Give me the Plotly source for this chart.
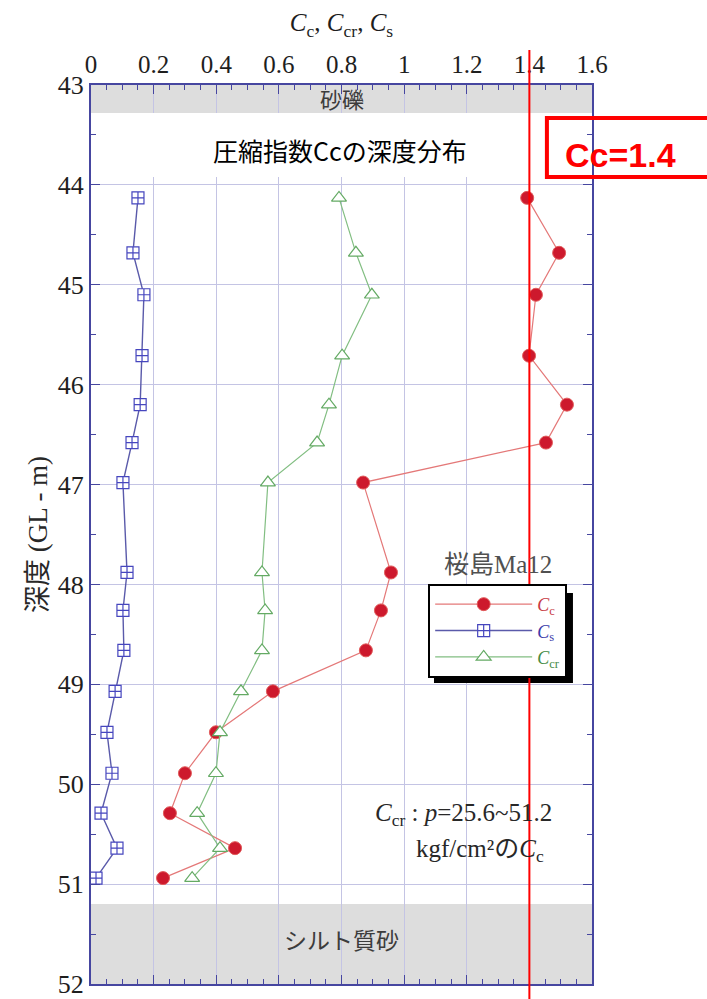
import plotly.graph_objects as go

# Sample depths (GL - m) and the three compression indices
depth = [44.13, 44.68, 45.10, 45.71, 46.20, 46.58, 46.98, 47.88,
         48.26, 48.66, 49.07, 49.48, 49.89, 50.29, 50.64, 50.94]
cc = [1.393, 1.495, 1.421, 1.399, 1.520, 1.453, 0.869, 0.958,
      0.926, 0.878, 0.581, 0.399, 0.300, 0.252, 0.460, 0.230]
cs = [0.150, 0.134, 0.169, 0.163, 0.157, 0.131, 0.102, 0.115,
      0.102, 0.105, 0.077, 0.051, 0.067, 0.032, 0.083, 0.016]
ccr = [0.792, 0.846, 0.897, 0.802, 0.760, 0.722, 0.565, 0.546,
       0.556, 0.546, 0.479, 0.412, 0.399, 0.339, 0.412, 0.323]

x_ticks = [0, 0.2, 0.4, 0.6, 0.8, 1.0, 1.2, 1.4, 1.6]
y_ticks = [43, 44, 45, 46, 47, 48, 49, 50, 51, 52]

# Soil layers (depth ranges) shown as grey bands
gravel_layer = [43.0, 43.28]
silty_sand_layer = [51.2, 52.0]
cc_ref = 1.4

SERIF = "Liberation Serif, Noto Sans CJK JP"
NUM_FONT = "Liberation Serif, Times New Roman, serif"
SANS_JP = "Noto Sans CJK JP"
AXIS_BLUE = "rgb(70,70,160)"
GRID = "rgb(196,196,228)"

RED = "rgb(205,25,45)"
BLUE = "rgb(70,70,190)"
GREEN = "rgb(100,170,100)"

fig = go.Figure()

fig.add_trace(go.Scatter(
    x=cc, y=depth, mode="lines+markers",
    name="<span style='color:rgb(200,60,70)'><i>C</i><sub>c</sub></span>",
    line=dict(color="rgb(228,120,120)", width=1.2),
    marker=dict(symbol="circle", size=13, color=RED,
                line=dict(color="rgb(225,90,90)", width=1)),
))
fig.add_trace(go.Scatter(
    x=cs, y=depth, mode="lines+markers",
    name="<span style='color:rgb(60,60,170)'><i>C</i><sub>s</sub></span>",
    line=dict(color="rgb(90,90,170)", width=1.4),
    marker=dict(symbol="square-cross", size=12, color="white",
                line=dict(color=BLUE, width=1.2)),
))
fig.add_trace(go.Scatter(
    x=ccr, y=depth, mode="lines+markers",
    name="<span style='color:rgb(70,140,70)'><i>C</i><sub>cr</sub></span>",
    line=dict(color="rgb(130,190,130)", width=1.2),
    marker=dict(symbol="triangle-up", size=13, color="white",
                line=dict(color=GREEN, width=1.2)),
))

shapes = []
# grey soil bands (beneath the grid)
for rng in (gravel_layer, silty_sand_layer):
    shapes.append(dict(type="rect", xref="paper", yref="y", x0=0, x1=1,
                       y0=rng[0], y1=rng[1], layer="below",
                       fillcolor="rgb(221,221,221)", line=dict(width=0)))

# white panel behind the heading
shapes.append(dict(type="rect", xref="paper", yref="paper",
                   x0=0.014, x1=0.862, y0=0.8977, y1=0.9689,
                   fillcolor="white", line=dict(width=0), layer="above"))

# legend drop shadow
shapes.append(dict(type="rect", xref="paper", yref="paper",
                   x0=0.6846, x1=0.962, y0=0.3348, y1=0.4349,
                   fillcolor="black", line=dict(width=0), layer="above"))

# reference line Cc = 1.4
shapes.append(dict(type="line", xref="x", yref="paper",
                   x0=cc_ref, x1=cc_ref, y0=-0.02, y1=1.039,
                   line=dict(color="red", width=2), layer="above"))

# framed label for the reference value
shapes.append(dict(type="rect", xref="paper", yref="paper",
                   x0=0.910, x1=1.30, y0=0.8977, y1=0.9633,
                   fillcolor="rgba(0,0,0,0)", line=dict(color="red", width=4),
                   layer="above"))


def note(text, x, y, font, xanchor="center", yref="paper"):
    return dict(text=text, xref="paper", yref=yref, x=x, y=y,
                xanchor=xanchor, yanchor="middle", showarrow=False, font=font)


annotations = [
    note("砂礫", 0.5, (gravel_layer[0] + gravel_layer[1]) / 2 + 0.02,
         dict(family=SERIF, size=22, color="rgb(60,60,60)"), yref="y"),
    note("シルト質砂", 0.5, (silty_sand_layer[0] + silty_sand_layer[1]) / 2 - 0.03,
         dict(family=SERIF, size=23, color="rgb(60,60,60)"), yref="y"),
    note("圧縮指数Ccの深度分布", 0.497, 0.928,
         dict(family=SANS_JP, size=25, color="black")),
    note(f"Cc={cc_ref}", 1.056, 0.922,
         dict(family="Liberation Sans, Arial", size=34, color="red", weight="bold")),
    note("桜島Ma12", 0.812, 0.467,
         dict(family=SERIF, size=25, color="rgb(80,80,80)")),
    note("<i>C</i><sub>cr</sub> : <i>p</i>=25.6~51.2", 0.924, 0.188,
         dict(family=SERIF, size=25, color="rgb(40,40,40)"), xanchor="right"),
    note("kgf/cm²の<i>C</i><sub>c</sub>", 0.908, 0.149,
         dict(family=SERIF, size=25, color="rgb(40,40,40)"), xanchor="right"),
]

fig.update_layout(
    width=707, height=999,
    margin=dict(l=91, r=115, t=85, b=15, autoexpand=False),
    paper_bgcolor="white", plot_bgcolor="rgba(0,0,0,0)",
    shapes=shapes, annotations=annotations,
    showlegend=True,
    legend=dict(x=0.673, y=0.445, xanchor="left", yanchor="top",
                bgcolor="white", bordercolor="black", borderwidth=2,
                font=dict(family=SERIF, size=18),
                itemwidth=97, tracegroupgap=0),
    xaxis=dict(
        side="top", range=[0, 1.6], tickvals=x_ticks,
        ticktext=[f"{v:g}" for v in x_ticks],
        tickfont=dict(family=NUM_FONT, size=25, color="rgb(30,30,30)"),
        title=dict(text="<i>C</i><sub>c</sub>, <i>C</i><sub>cr</sub>, <i>C</i><sub>s</sub>",
                   font=dict(family=SERIF, size=25, color="rgb(30,30,30)"),
                   standoff=12),
        showgrid=True, gridcolor=GRID, gridwidth=1,
        showline=True, linecolor=AXIS_BLUE, linewidth=2, mirror="ticks",
        ticks="inside", ticklen=9, tickcolor=AXIS_BLUE, tickwidth=1,
        minor=dict(dtick=0.05, ticks="inside", ticklen=5, tickcolor=AXIS_BLUE,
                   showgrid=False),
        zeroline=False, automargin=False, ticklabeloverflow="allow",
    ),
    yaxis=dict(
        range=[52, 43], tickvals=y_ticks,
        tickfont=dict(family=NUM_FONT, size=26, color="rgb(30,30,30)"),
        title=dict(text="深度 (GL - m)",
                   font=dict(family=SERIF, size=27, color="rgb(40,40,40)"),
                   standoff=2),
        showgrid=True, gridcolor=GRID, gridwidth=1,
        showline=True, linecolor=AXIS_BLUE, linewidth=2, mirror="ticks",
        ticks="inside", ticklen=9, tickcolor=AXIS_BLUE, tickwidth=1,
        minor=dict(dtick=0.5, ticks="inside", ticklen=5, tickcolor=AXIS_BLUE,
                   showgrid=False),
        zeroline=False, automargin=False, ticklabeloverflow="allow",
    ),
)

fig.write_html("out.html")
